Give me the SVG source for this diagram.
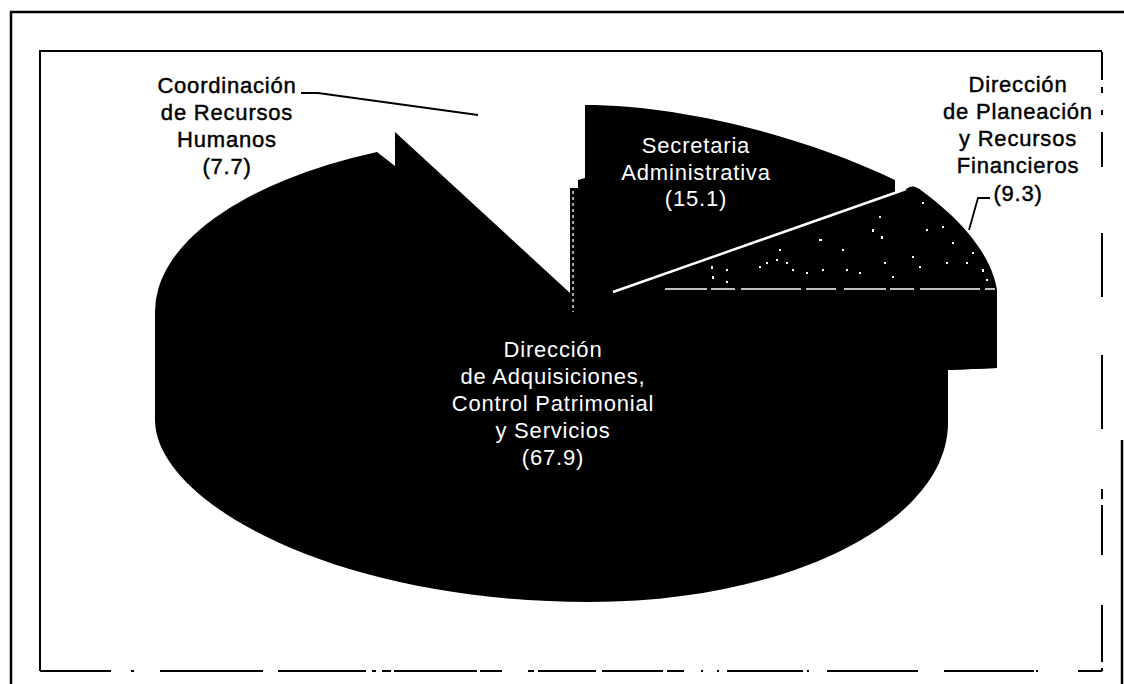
<svg xmlns="http://www.w3.org/2000/svg" width="1124" height="684" viewBox="0 0 1124 684">
<defs>
<style>
.frame{fill:none;stroke:#000;stroke-width:2.5}
.iframe{fill:none;stroke:#000;stroke-width:2}
.blk{fill:#000;stroke:none}
.lblB{font-family:"Liberation Sans",Arial,sans-serif;font-size:22px;letter-spacing:0.8px;fill:#000;stroke:#000;stroke-width:0.45;text-anchor:middle}
.lblW{font-family:"Liberation Sans",Arial,sans-serif;font-size:22px;letter-spacing:0.8px;fill:#fff;text-anchor:middle}
.leader{fill:none;stroke:#000;stroke-width:1.8}
.sep{fill:none;stroke:#fff;stroke-width:2.5}
.spk{fill:#fff}
</style>
</defs>
<rect width="1124" height="684" fill="#fff"/>
<g id="frame">
<path class="frame" d="M11,684 L11,12 L1124,12"/>
<path class="frame" d="M1122,440 L1122,684"/>
<path class="iframe" d="M40,671 L40,51 L1102,51"/>
<path class="iframe" d="M1102,52 V80 M1102,87 V93 M1102,110 V115 M1102,132 V167 M1102,233 V297 M1102,355 V429 M1102,489 V499 M1102,505 V555 M1102,605 V662 M1102,668 V671"/>
<path class="iframe" d="M40,671 H111 M131,671 H134 M160,671 H263 M278,671 H366 M372,671 H376 M382,671 H391 M394,671 H477 M480,671 H502 M528,671 H534 M538,671 H596 M602,671 H663 M667,671 H684 M701,671 H703 M717,671 H719 M727,671 H803 M807,671 H809 M827,671 H918 M944,671 H1034 M1036,671 H1038 M1078,671 H1102"/>
</g>
<g id="slice-adquisiciones">
<path class="blk" d="M155,420 L155,313 A397,178 0 0 1 377,152 L395,166 L395,132 L570,293 L570,188 L580,188 L580,300 L997,300 L997,368 L948,370 L948,423 C948,522 788,602 590,602 C330,602 155,500 155,420 Z"/>
<path d="M573,191 V312" fill="none" stroke="#fff" stroke-width="1.3" stroke-dasharray="3 3"/>
<text class="lblW" x="553" y="357">Dirección</text>
<text class="lblW" x="553" y="384">de Adquisiciones,</text>
<text class="lblW" x="553" y="411">Control Patrimonial</text>
<text class="lblW" x="553" y="438">y Servicios</text>
<text class="lblW" x="553" y="465">(67.9)</text>
</g>
<g id="slice-secretaria">
<path class="blk" d="M578,180 L585,178 L585,105 C680,105 800,135 895,180 L895,193 L906,189 L613,292 L616,304 L578,304 Z"/>
<text class="lblW" x="696" y="153">Secretaria</text>
<text class="lblW" x="696" y="180">Administrativa</text>
<text class="lblW" x="696" y="206">(15.1)</text>
</g>
<g id="slice-planeacion">
<path class="blk" d="M613,292 L906,189 Q913,183 922,191 C952,213 990,248 997,290 L997,368 L948,370 L948,304 L613,304 Z"/>
<path class="sep" d="M613,292 L906,189"/>
<path d="M665,289 H995" fill="none" stroke="#fff" stroke-width="1.6" stroke-dasharray="42 4 24 6 60 5 30 8"/>
<g class="spk">
<rect x="711" y="266" width="2" height="3"/><rect x="712" y="276" width="2" height="3"/><rect x="726" y="269" width="2" height="2"/><rect x="726" y="281" width="2" height="2"/>
<rect x="759" y="266" width="2" height="2"/><rect x="766" y="262" width="2" height="2"/><rect x="776" y="259" width="2" height="2"/><rect x="779" y="249" width="2" height="2"/>
<rect x="786" y="262" width="2" height="2"/><rect x="792" y="269" width="2" height="2"/><rect x="806" y="272" width="2" height="2"/><rect x="819" y="239" width="3" height="2"/>
<rect x="822" y="269" width="2" height="2"/><rect x="842" y="249" width="2" height="2"/><rect x="846" y="269" width="2" height="2"/><rect x="872" y="229" width="2" height="3"/>
<rect x="879" y="216" width="2" height="2"/><rect x="881" y="236" width="2" height="3"/><rect x="884" y="262" width="2" height="2"/><rect x="892" y="276" width="2" height="2"/>
<rect x="922" y="202" width="2" height="2"/><rect x="926" y="229" width="2" height="2"/><rect x="942" y="226" width="2" height="2"/><rect x="952" y="242" width="2" height="2"/>
<rect x="972" y="252" width="2" height="2"/><rect x="982" y="269" width="2" height="3"/><rect x="986" y="279" width="2" height="2"/><rect x="966" y="262" width="2" height="2"/>
<rect x="946" y="262" width="2" height="2"/><rect x="912" y="256" width="2" height="2"/><rect x="919" y="266" width="2" height="2"/><rect x="859" y="272" width="2" height="2"/>
</g>
</g>
<g id="label-coordinacion">
<text class="lblB" x="227" y="93">Coordinación</text>
<text class="lblB" x="227" y="120">de Recursos</text>
<text class="lblB" x="227" y="147">Humanos</text>
<text class="lblB" x="227" y="174">(7.7)</text>
</g>
<g id="label-planeacion">
<text class="lblB" x="1018" y="92">Dirección</text>
<text class="lblB" x="1018" y="119">de Planeación</text>
<text class="lblB" x="1018" y="146">y Recursos</text>
<text class="lblB" x="1018" y="173">Financieros</text>
<text class="lblB" x="1018" y="201">(9.3)</text>
</g>
<g id="connectors">
<path class="leader" d="M301,93 L318,93 L478,115"/>
<path class="leader" d="M990,198 L978,198 L969,230"/>
</g>
</svg>
